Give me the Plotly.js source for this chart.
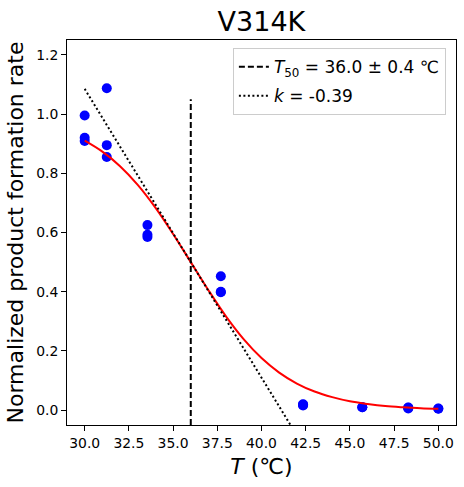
<!DOCTYPE html>
<html>
<head>
<meta charset="utf-8">
<script src="https://cdn.plot.ly/plotly-3.0.1.min.js"></script>
<style>body{margin:0;padding:0;background:#fff;}#chart{width:464px;height:487px;}</style>
</head>
<body>
<div id="chart"></div>
<script>
// Measured data points (temperature, normalized rate)
var tempData = [30, 30, 30, 31.25, 31.25, 31.25, 33.55, 33.55, 33.55, 37.7, 37.7, 37.7, 42.35, 42.35, 42.35, 45.7, 45.7, 48.3, 48.3, 48.3, 50, 50];
var rateData = [0.995, 0.92, 0.909, 1.087, 0.895, 0.855, 0.625, 0.592, 0.585, 0.452, 0.40, 0.398, 0.018, 0.016, 0.02, 0.01, 0.01, 0.008, 0.009, 0.006, 0.006, 0.005];

// Fitted curve
var fitT = [30, 31, 32, 33, 34, 35, 36, 37, 38, 39, 40, 41, 42, 43, 44, 45, 46, 47, 48, 49, 50];
var fitY = [0.910, 0.873, 0.824, 0.761, 0.684, 0.595, 0.500, 0.405, 0.316, 0.239, 0.176, 0.127, 0.090, 0.063, 0.044, 0.030, 0.021, 0.014, 0.0097, 0.0066, 0.0045];

// T50 marker line
var t50X = [36.0, 36.0];
var t50Y = [-0.05, 1.05];

// Tangent (slope) line
var slopeX = [30, 42];
var slopeY = [1.085, -0.085];

var legendT50 = '<i>T</i><sub>50</sub> = 36.0 ± 0.4 ℃';
var legendK = '<i>k</i> = -0.39';
var titleText = 'V314K';
var xTitle = '<i>T</i> (℃)';
var yTitle = 'Normalized product formation rate';
var xTicks = [30, 32.5, 35, 37.5, 40, 42.5, 45, 47.5, 50];
var yTicks = [0, 0.2, 0.4, 0.6, 0.8, 1.0, 1.2];

var font = 'DejaVu Sans, sans-serif';

var traces = [
  {x: tempData, y: rateData, mode: 'markers', type: 'scatter', showlegend: false,
   marker: {color: '#0000ff', size: 10}},
  {x: fitT, y: fitY, mode: 'lines', type: 'scatter', showlegend: false,
   line: {color: '#ff0000', width: 2, shape: 'spline'}},
  {x: t50X, y: t50Y, mode: 'lines', type: 'scatter', name: legendT50, legendgroup: 'a',
   line: {color: '#000000', width: 2, dash: '6px,3px'}},
  {x: slopeX, y: slopeY, mode: 'lines', type: 'scatter', name: legendK, legendgroup: 'b',
   line: {color: '#000000', width: 2, dash: '2px,2.5px'}}
];

var layout = {
  width: 464, height: 487,
  margin: {l: 67, r: 8, t: 40, b: 62},
  paper_bgcolor: '#ffffff', plot_bgcolor: '#ffffff',
  font: {family: font, color: '#000000', size: 13.9},
  title: {text: titleText, font: {size: 27, family: font, color: '#000'}, x: 0.5635, xanchor: 'center', y: 0.955, yanchor: 'middle'},
  xaxis: {
    range: [29, 51], tickvals: xTicks, ticktext: xTicks.map(function(v){return v.toFixed(1);}),
    showgrid: false, zeroline: false, showline: true, mirror: true, linecolor: '#000', linewidth: 1,
    ticks: 'outside', ticklen: 5, tickcolor: '#000', tickfont: {size: 13.9},
    title: {text: xTitle, font: {size: 22}, standoff: 8}
  },
  yaxis: {
    range: [-0.05, 1.25], tickvals: yTicks, ticktext: yTicks.map(function(v){return v.toFixed(1);}),
    showgrid: false, zeroline: false, showline: true, mirror: true, linecolor: '#000', linewidth: 1,
    ticks: 'outside', ticklen: 5, tickcolor: '#000', tickfont: {size: 13.9},
    title: {text: yTitle, font: {size: 22}, standoff: 6}
  },
  legend: {
    x: 0.974, y: 0.979, xanchor: 'right', yanchor: 'top',
    bgcolor: '#ffffff', bordercolor: '#cccccc', borderwidth: 1,
    font: {size: 17}, tracegroupgap: 4
  },
  showlegend: true
};

Plotly.newPlot('chart', traces, layout, {staticPlot: true, displayModeBar: false});
</script>
</body>
</html>
